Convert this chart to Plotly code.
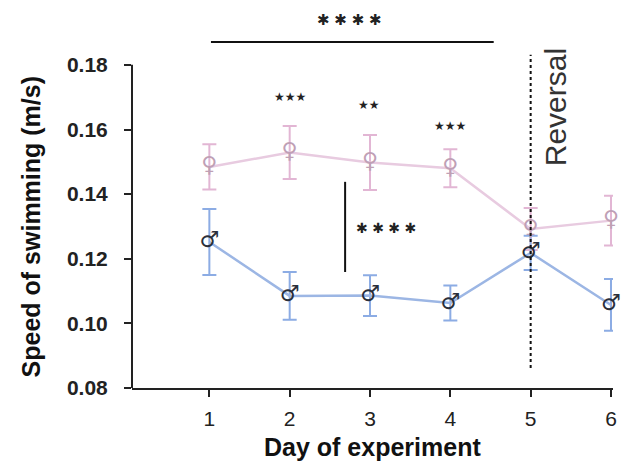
import plotly.graph_objects as go

days = [1, 2, 3, 4, 5, 6]
female_mean = [0.1484, 0.1529, 0.1498, 0.1480, 0.1292, 0.1318]
female_sem = [0.0070, 0.0082, 0.0085, 0.0059, 0.0065, 0.0077]
male_mean = [0.1252, 0.1085, 0.1086, 0.1063, 0.1218, 0.1057]
male_sem = [0.0102, 0.0074, 0.0063, 0.0054, 0.0053, 0.0080]
y_ticks = [0.08, 0.10, 0.12, 0.14, 0.16, 0.18]
y_tick_labels = ["0.08", "0.10", "0.12", "0.14", "0.16", "0.18"]

PINK_LINE = "#e8cbe0"
PINK_ERR = "#e2b6d4"
PINK_SYM = "#bfa0b5"
BLUE_LINE = "#9cb6e4"
BLUE_ERR = "#8cace4"
BLUE_SYM = "#2a2f3a"

fig = go.Figure()

fig.add_trace(go.Scatter(
    x=days, y=female_mean, mode="lines",
    line=dict(color=PINK_LINE, width=2.5),
    error_y=dict(type="data", array=female_sem, color=PINK_ERR, thickness=2, width=7),
    showlegend=False, hoverinfo="skip"))
fig.add_trace(go.Scatter(
    x=days, y=male_mean, mode="lines",
    line=dict(color=BLUE_LINE, width=2.5),
    error_y=dict(type="data", array=male_sem, color=BLUE_ERR, thickness=2, width=7),
    showlegend=False, hoverinfo="skip"))
fig.add_trace(go.Scatter(
    x=days, y=female_mean, mode="text", text=["♀"] * len(days),
    textposition="middle center",
    textfont=dict(family="DejaVu Sans", size=22, color=PINK_SYM),
    cliponaxis=False, showlegend=False, hoverinfo="skip"))
fig.add_trace(go.Scatter(
    x=days, y=male_mean, mode="text", text=["♂"] * len(days),
    textposition="middle center",
    textfont=dict(family="DejaVu Sans", size=22, color=BLUE_SYM),
    cliponaxis=False, showlegend=False, hoverinfo="skip"))

shapes = [
    # y axis line (0.08 - 0.18 only)
    dict(type="line", xref="paper", yref="y", x0=0, x1=0, y0=0.08, y1=0.18,
         line=dict(color="#222", width=2)),
    # top bracket
    dict(type="line", xref="x", yref="y", x0=1.02, x1=4.54, y0=0.1871, y1=0.1871,
         line=dict(color="#111", width=2)),
    # vertical comparison line
    dict(type="line", xref="x", yref="y", x0=2.69, x1=2.69, y0=0.1159, y1=0.1438,
         line=dict(color="#111", width=2)),
    # reversal dashed line
    dict(type="line", xref="x", yref="y", x0=5, x1=5, y0=0.0862, y1=0.1831,
         line=dict(color="#111", width=2, dash="dot")),
]

annotations = [
    dict(x=2.74, y=0.1939, text="✱ ✱ ✱ ✱", showarrow=False,
         font=dict(family="DejaVu Sans", size=15, color="#222"), xref="x", yref="y"),
    dict(x=2.0, y=0.1701, text="★★★", showarrow=False,
         font=dict(family="DejaVu Sans", size=12, color="#222"), xref="x", yref="y"),
    dict(x=2.99, y=0.1676, text="★★", showarrow=False,
         font=dict(family="DejaVu Sans", size=12, color="#222"), xref="x", yref="y"),
    dict(x=4.0, y=0.1611, text="★★★", showarrow=False,
         font=dict(family="DejaVu Sans", size=12, color="#222"), xref="x", yref="y"),
    dict(x=3.2, y=0.1295, text="✱ ✱ ✱ ✱", showarrow=False,
         font=dict(family="DejaVu Sans", size=14, color="#222"), xref="x", yref="y"),
    dict(x=5.32, y=0.167, text="Reversal", showarrow=False, textangle=-90,
         font=dict(family="Liberation Sans, Arial", size=30, color="#333"),
         xref="x", yref="y"),
    dict(x=-0.21, y=0.13, text="Speed of swimming (m/s)", showarrow=False, textangle=-90,
         font=dict(family="Liberation Sans, Arial", size=25, color="#111", weight="bold"),
         xref="paper", yref="y", xanchor="center", yanchor="middle"),
    dict(x=0.5, y=-0.155, text="Day of experiment", showarrow=False,
         font=dict(family="Liberation Sans, Arial", size=25, color="#111", weight="bold"),
         xref="paper", yref="paper", xanchor="center", yanchor="middle"),
]

fig.update_layout(
    width=622, height=468,
    margin=dict(l=132, r=5, t=8, b=80),
    paper_bgcolor="white", plot_bgcolor="white",
    shapes=shapes, annotations=annotations,
    xaxis=dict(range=[0.037, 6.025], tickvals=days, ticktext=[str(d) for d in days],
               showline=True, linecolor="#222", linewidth=2, ticks="outside",
               ticklen=7, tickwidth=2, tickcolor="#222", showgrid=False, zeroline=False,
               tickfont=dict(family="Liberation Sans, Arial", size=21, color="#222"),
               ticklabelstandoff=4, ticklabeloverflow="allow"),
    yaxis=dict(range=[0.08, 0.1976], tickvals=y_ticks, ticktext=y_tick_labels,
               showline=False, ticks="outside", ticklen=7, tickwidth=2, tickcolor="#222",
               showgrid=False, zeroline=False,
               tickfont=dict(family="Liberation Sans, Arial", size=21, color="#222", weight="bold"),
               ticklabelstandoff=12),
)

fig.write_html("out.html", config={"displayModeBar": False},
               post_script="document.body.style.margin='0';document.body.style.overflow='hidden';")
